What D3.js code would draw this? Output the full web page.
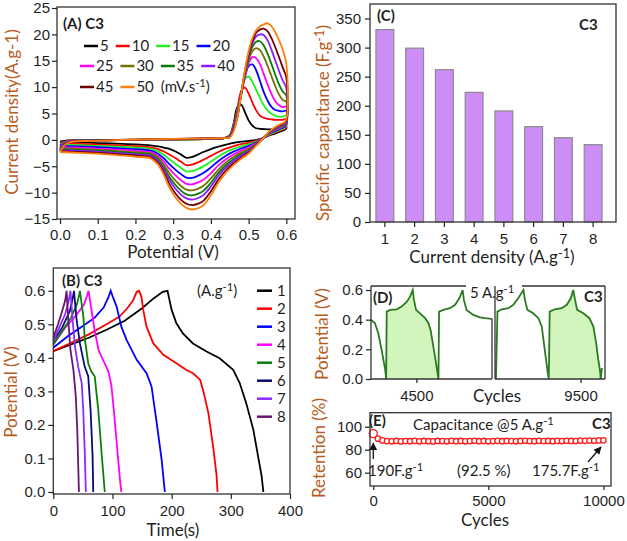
<!DOCTYPE html>
<html>
<head>
<meta charset="utf-8">
<script src="https://cdn.jsdelivr.net/npm/d3@7/dist/d3.min.js"></script>
<style>
  body { margin: 0; background: #fff; }
  svg { display: block; font-family: Lato, "Open Sans", sans-serif; }
</style>
</head>
<body>
<svg id="chart" width="627" height="541"></svg>
<script>
// ---------- (A) CV curves ----------
const cvRates = [5, 10, 15, 20, 25, 30, 35, 40, 45, 50];
const cvColors = ['#000000', '#ff0000', '#22ee22', '#0000ff', '#ff00ff', '#727200', '#0b7a0b', '#8a1cff', '#6e0000', '#ff7f0f'];
const cvUpV = [0, 0.02, 0.1, 0.2, 0.3, 0.4, 0.435, 0.45, 0.46, 0.47, 0.48, 0.49, 0.5, 0.51, 0.52, 0.53, 0.54, 0.55, 0.56, 0.57, 0.58, 0.59, 0.6];
const cvLowV = [0.598, 0.585, 0.57, 0.555, 0.54, 0.52, 0.5, 0.48, 0.46, 0.44, 0.42, 0.4, 0.38, 0.365, 0.35, 0.335, 0.32, 0.305, 0.29, 0.275, 0.26, 0.24, 0.2, 0.15, 0.1, 0.05, 0];
const cvUp = [
  [-0.35, -0.1, 0, 0, 0.05, 0.2, 0.35, 0.9, 3.0, 6.2, 6.7, 5.3, 3.7, 2.7, 2.2, 2.1, 2.05, 2.0, 2.0, 2.0, 2.1, 2.2, 2.4],
  [-0.63, -0.2, 0, 0, 0.05, 0.2, 0.35, 0.8, 2.8, 5.8, 9.2, 9.9, 8.8, 7.1, 5.6, 4.6, 4.2, 4.0, 3.9, 3.8, 3.8, 3.8, 3.9],
  [-0.88, -0.25, -0.05, 0, 0.05, 0.2, 0.35, 0.8, 2.6, 5.5, 8.8, 11.6, 12.0, 11.0, 9.5, 8.0, 6.6, 5.6, 5.0, 4.6, 4.4, 4.4, 4.6],
  [-1.12, -0.3, -0.05, 0, 0.1, 0.25, 0.35, 0.7, 2.4, 5.2, 8.6, 11.8, 14.0, 14.3, 13.2, 11.2, 9.1, 7.5, 6.3, 5.7, 5.5, 5.4, 5.5],
  [-1.36, -0.35, -0.1, 0, 0.1, 0.25, 0.35, 0.7, 2.3, 5.0, 8.5, 12.0, 14.5, 15.7, 15.5, 14.4, 12.5, 10.6, 8.8, 7.4, 6.6, 6.2, 6.3],
  [-1.59, -0.4, -0.1, 0, 0.1, 0.3, 0.35, 0.6, 2.2, 4.8, 8.5, 12.3, 15.0, 16.8, 17.4, 17.0, 15.8, 14.1, 12.2, 10.3, 8.7, 7.6, 7.2],
  [-1.77, -0.45, -0.1, 0.05, 0.15, 0.3, 0.35, 0.6, 2.1, 4.6, 8.5, 12.5, 15.5, 17.6, 18.6, 18.7, 17.9, 16.4, 14.5, 12.5, 10.6, 9.2, 8.4],
  [-1.93, -0.5, -0.15, 0.05, 0.15, 0.3, 0.35, 0.55, 2.0, 4.4, 8.5, 12.7, 16.0, 18.3, 19.6, 20.0, 19.9, 18.9, 17.2, 15.2, 13.2, 11.3, 9.8],
  [-2.14, -0.55, -0.15, 0.05, 0.2, 0.3, 0.35, 0.5, 1.9, 4.2, 8.5, 12.9, 16.4, 18.8, 20.3, 20.9, 21.1, 20.6, 19.4, 17.7, 15.8, 13.8, 11.8],
  [-2.3, -0.6, -0.2, 0.05, 0.2, 0.3, 0.35, 0.45, 1.6, 4.2, 8.5, 13.1, 16.8, 19.3, 20.8, 21.5, 21.9, 22.1, 21.6, 20.5, 19.0, 17.2, 14.4]
];
const cvLow = [
  [2.0, 1.6, 1.2, 0.85, 0.4, 0.0, -0.2, -0.35, -0.55, -0.9, -1.3, -1.75, -2.3, -2.8, -3.25, -3.4, -2.75, -2.15, -1.7, -1.45, -1.25, -1.05, -0.85, -0.7, -0.6, -0.45, -0.35],
  [2.2, 1.8, 1.4, 0.96, 0.4, -0.16, -0.55, -0.82, -1.17, -1.67, -2.29, -3.03, -3.77, -4.29, -4.7, -4.79, -4.12, -3.41, -2.77, -2.2, -1.75, -1.41, -1.19, -1.02, -0.89, -0.74, -0.63],
  [2.43, 1.98, 1.52, 1.05, 0.4, -0.3, -0.85, -1.23, -1.7, -2.33, -3.14, -4.11, -5.03, -5.55, -5.94, -5.97, -5.27, -4.49, -3.67, -2.84, -2.18, -1.71, -1.48, -1.29, -1.14, -0.99, -0.88],
  [2.63, 2.15, 1.68, 1.15, 0.4, -0.44, -1.15, -1.64, -2.23, -3.0, -3.99, -5.22, -6.3, -6.84, -7.19, -7.16, -6.45, -5.58, -4.59, -3.49, -2.62, -2.02, -1.78, -1.57, -1.39, -1.24, -1.12],
  [2.83, 2.33, 1.82, 1.24, 0.4, -0.57, -1.45, -2.04, -2.76, -3.66, -4.84, -6.3, -7.55, -8.1, -8.42, -8.34, -7.61, -6.65, -5.5, -4.13, -3.04, -2.32, -2.07, -1.84, -1.64, -1.49, -1.36],
  [3.02, 2.49, 1.96, 1.33, 0.4, -0.7, -1.72, -2.41, -3.25, -4.27, -5.62, -7.31, -8.71, -9.28, -9.57, -9.43, -8.69, -7.64, -6.34, -4.72, -3.44, -2.61, -2.34, -2.1, -1.87, -1.72, -1.59],
  [3.17, 2.62, 2.08, 1.4, 0.4, -0.8, -1.95, -2.72, -3.65, -4.77, -6.26, -8.14, -9.67, -10.25, -10.51, -10.34, -9.58, -8.46, -7.03, -5.21, -3.77, -2.84, -2.57, -2.31, -2.06, -1.91, -1.77],
  [3.3, 2.73, 2.17, 1.46, 0.4, -0.89, -2.14, -2.98, -3.99, -5.19, -6.81, -8.84, -10.48, -11.06, -11.31, -11.1, -10.32, -9.16, -7.61, -5.62, -4.04, -3.03, -2.75, -2.48, -2.22, -2.07, -1.93],
  [3.47, 2.88, 2.3, 1.54, 0.4, -1.01, -2.4, -3.33, -4.45, -5.76, -7.54, -9.77, -11.56, -12.15, -12.37, -12.11, -11.32, -10.08, -8.39, -6.17, -4.41, -3.3, -3.0, -2.72, -2.43, -2.28, -2.14],
  [3.6, 3.0, 2.4, 1.6, 0.4, -1.1, -2.6, -3.6, -4.8, -6.2, -8.1, -10.5, -12.4, -13.0, -13.2, -12.9, -12.1, -10.8, -9.0, -6.6, -4.7, -3.5, -3.2, -2.9, -2.6, -2.45, -2.3]
];
const cvXTicks = [0, 0.1, 0.2, 0.3, 0.4, 0.5, 0.6];
const cvYTicks = [-15, -10, -5, 0, 5, 10, 15, 20, 25];

// ---------- (B) GCD curves ----------
const gcdCurrents = [1, 2, 3, 4, 5, 6, 7, 8];
const gcdColors = ['#000000', '#ff0000', '#0000ff', '#ff00ff', '#0a800a', '#0c0c78', '#8a2cff', '#6a1670'];
const gcd1 = [[0,0.42],[30,0.44],[60,0.46],[90,0.484],[120,0.51],[150,0.548],[170,0.578],[185,0.597],[193,0.6],[196,0.575],[200,0.543],[208,0.503],[219,0.473],[236,0.443],[259,0.419],[281,0.399],[304,0.364],[315,0.325],[326,0.265],[338,0.186],[346,0.107],[352,0.048],[355,0]];
const gcd2 = [[0,0.42],[30,0.445],[60,0.47],[90,0.5],[112,0.523],[125,0.548],[135,0.572],[141,0.597],[145,0.6],[149,0.582],[152,0.543],[157.5,0.493],[169,0.443],[186,0.409],[208,0.384],[225,0.364],[236,0.354],[248,0.335],[253,0.305],[262,0.236],[270,0.137],[276,0.048],[277.5,0]];
const gcd3 = [[0,0.43],[25,0.465],[50,0.495],[70,0.52],[85,0.55],[93,0.58],[97,0.6],[100,0.585],[107,0.553],[115,0.493],[124,0.453],[141,0.394],[157.5,0.354],[166,0.315],[174,0.216],[183,0.097],[188.5,0]];
const gcd4 = [[0,0.44],[20,0.49],[40,0.53],[52,0.56],[57,0.585],[59.5,0.6],[64,0.55],[70,0.48],[77,0.42],[85,0.39],[93,0.36],[98,0.32],[102,0.25],[106,0.17],[110,0.09],[113,0.03],[115,0]];
const gcd5 = [[0,0.44],[15,0.48],[30,0.52],[40,0.56],[44,0.59],[45,0.6],[48,0.56],[51,0.52],[53,0.46],[59,0.384],[64,0.36],[70,0.345],[76,0.245],[82,0.107],[87,0]];
const gcd6 = [[0,0.45],[15,0.49],[28,0.54],[33,0.58],[35,0.6],[39.4,0.513],[45,0.443],[53,0.374],[59,0.345],[63,0.245],[66.4,0.107],[67.5,0]];
const gcd7 = [[0,0.45],[10,0.49],[20,0.53],[26,0.57],[29,0.6],[32.6,0.513],[36.6,0.434],[42,0.374],[48,0.325],[50.6,0.245],[53.4,0.107],[55,0]];
const gcd8 = [[0,0.46],[8,0.5],[15,0.54],[20,0.57],[22.5,0.6],[25.3,0.513],[29,0.424],[34,0.364],[38,0.285],[40.5,0.186],[42,0.087],[43.3,0]];
const gcdCurves = [gcd1, gcd2, gcd3, gcd4, gcd5, gcd6, gcd7, gcd8];

// ---------- (C) specific capacitance ----------
const capCurrents = ['1', '2', '3', '4', '5', '6', '7', '8'];
const capValues = [331, 299, 262, 223, 191, 164, 145, 133];

// ---------- (D) long cycling GCD, two windows ----------
const cycLeft = [[4485,0.40],[4486.3,0.376],[4487.4,0.309],[4488.5,0.197],[4489.3,0.107],[4489.7,0.063],[4490.0,0.0],[4490.2,0.454],[4491.3,0.466],[4493.5,0.47],[4495.1,0.488],[4496.8,0.52],[4497.9,0.555],[4498.8,0.6],[4499.2,0.533],[4499.9,0.466],[4501.2,0.443],[4502.9,0.41],[4504.0,0.376],[4504.7,0.33],[4505.6,0.22],[4506.5,0.107],[4507.0,0.04],[4507.3,0.0],[4507.5,0.454],[4508.9,0.466],[4511.1,0.477],[4512.8,0.5],[4514.2,0.544],[4515.3,0.6],[4515.7,0.533],[4516.6,0.466],[4518.8,0.432],[4521.0,0.415],[4522.7,0.41],[4524.9,0.405]];
const cycRight = [[9472.3,0.0],[9472.8,0.454],[9474.2,0.47],[9476.4,0.477],[9478.0,0.5],[9479.6,0.544],[9481.3,0.6],[9481.8,0.533],[9482.6,0.466],[9484.5,0.443],[9486.2,0.41],[9487.3,0.354],[9488.0,0.242],[9488.7,0.13],[9489.2,0.051],[9489.6,0.0],[9489.9,0.454],[9491.6,0.47],[9493.8,0.477],[9495.5,0.5],[9496.8,0.544],[9497.6,0.6],[9498.2,0.533],[9498.9,0.466],[9500.9,0.443],[9502.9,0.41],[9504.2,0.354],[9505.1,0.242],[9505.8,0.13],[9506.4,0.051],[9506.6,0.0],[9507.0,0.074]];
const cycFillLeft = [4490.2, 4507.3];
const cycFillRight = [9489.9, 9506.6];

// ---------- (E) retention ----------
const retCycles = [0,200,400,600,800,1000,1200,1400,1600,1800,2000,2200,2400,2600,2800,3000,3200,3400,3600,3800,4000,4200,4400,4600,4800,5000,5200,5400,5600,5800,6000,6200,6400,6600,6800,7000,7200,7400,7600,7800,8000,8200,8400,8600,8800,9000,9200,9400,9600,9800,10000];
const retValues = [94.0,89.6,88.1,87.5,87.3,87.6,87.2,87.5,87.4,87.7,87.3,87.6,87.4,87.2,87.6,87.5,87.3,87.7,87.4,87.6,87.3,87.5,87.8,87.4,87.6,87.3,87.5,87.7,87.4,87.6,87.5,87.3,87.6,87.8,87.5,87.4,87.7,87.5,87.6,87.4,87.7,87.5,87.8,87.6,87.5,87.9,87.7,88.0,87.8,88.1,88.2];

const INK = '#1f1f1f';
const TITLE = '#b85c1e';
const svg = d3.select('#chart');
svg.append('rect').attr('width', 627).attr('height', 541).attr('fill', '#fff');

function styleAxis(g) {
  g.select('.domain').remove();
  g.selectAll('line').attr('stroke', '#222').attr('stroke-width', 1.2);
  g.selectAll('text').attr('fill', INK).attr('font-size', 15);
}

function box(x0, y0, x1, y1) {
  svg.append('rect').attr('x', x0).attr('y', y0)
    .attr('width', x1 - x0).attr('height', y1 - y0)
    .attr('fill', 'none').attr('stroke', '#333').attr('stroke-width', 1.3);
}

// text with optional superscript pieces: parts = ['plain', {sup: '-1'}, ...]
function rich(x, y, parts, o = {}) {
  const size = o.size || 15;
  const t = svg.append('text').attr('x', x).attr('y', y)
    .attr('font-size', size).attr('fill', o.color || INK)
    .attr('font-weight', o.bold ? 'bold' : null)
    .attr('text-anchor', o.anchor || 'start');
  if (o.rotate) t.attr('transform', `rotate(-90,${x},${y})`);
  let up = false;
  parts.forEach(p => {
    const sup = typeof p !== 'string';
    const s = t.append('tspan').text(sup ? p.sup : p);
    if (sup) { s.attr('dy', -5).attr('font-size', size * 0.75); up = true; }
    else if (up) { s.attr('dy', 5); up = false; }
  });
  return t;
}

// ================= panel A =================
const xA = d3.scaleLinear().domain([-0.008, 0.623]).range([57, 295]);
const yA = d3.scaleLinear().domain([-15, 25]).range([219, 8]);

const cvLine = d3.line()
  .x(d => xA(d[0])).y(d => yA(d[1]))
  .curve(d3.curveCatmullRom.alpha(0.5));

cvRates.forEach((r, i) => {
  const pts = cvUpV.map((v, j) => [v, cvUp[i][j]])
    .concat(cvLowV.map((v, j) => [v, cvLow[i][j]]));
  svg.append('path').datum(pts)
    .attr('d', cvLine).attr('fill', 'none')
    .attr('stroke', cvColors[i]).attr('stroke-width', 1.8);
});

box(57, 7, 295, 219);
svg.append('g').attr('transform', 'translate(57,0)')
  .call(d3.axisLeft(yA).tickValues(cvYTicks).tickSize(5).tickPadding(2)).call(styleAxis);
svg.append('g').attr('transform', 'translate(0,219)')
  .call(d3.axisBottom(xA).tickValues(cvXTicks).tickFormat(d3.format('.1f')).tickSize(5).tickPadding(5)).call(styleAxis);

rich(63, 29, ['(A) C3'], {bold: true, size: 15});
rich(173, 258, ['Potential (V)'], {anchor: 'middle', size: 17});
rich(18, 112, ['Current density(A.g-1)'], {anchor: 'middle', size: 17, rotate: true, color: TITLE});

// legend, four per row
const legRowStart = [84, 80, 80];
const legRowY = [46, 66, 87];
let legX = 0;
cvRates.forEach((r, i) => {
  const row = Math.floor(i / 4);
  if (i % 4 === 0) legX = legRowStart[row];
  const y = legRowY[row];
  svg.append('line').attr('x1', legX).attr('x2', legX + 14).attr('y1', y).attr('y2', y)
    .attr('stroke', cvColors[i]).attr('stroke-width', 2.5);
  const t = rich(legX + 16, y + 5, [String(r)], {size: 15});
  legX += 16 + t.node().getComputedTextLength() + 7;
});
rich(legX, legRowY[2] + 5, ['(mV.s', {sup: '-1'}, ')'], {size: 15});

// ================= panel B =================
const xB = d3.scaleLinear().domain([0, 400]).range([53.3, 290]);
const yB = d3.scaleLinear().domain([-0.006, 0.668]).range([494, 268]);
const gcdLine = d3.line().x(d => xB(d[0])).y(d => yB(d[1]));

gcdCurves.forEach((c, i) => {
  svg.append('path').datum(c).attr('d', gcdLine).attr('fill', 'none')
    .attr('stroke', gcdColors[i]).attr('stroke-width', 1.8);
});

box(53.3, 268, 290, 494);
svg.append('g').attr('transform', 'translate(53.3,0)')
  .call(d3.axisLeft(yB).tickValues([0, 0.1, 0.2, 0.3, 0.4, 0.5, 0.6]).tickFormat(d3.format('.1f')).tickSize(5).tickPadding(3)).call(styleAxis);
svg.append('g').attr('transform', 'translate(0,494)')
  .call(d3.axisBottom(xB).tickValues([0, 100, 200, 300, 400]).tickSize(5).tickPadding(6)).call(styleAxis);

rich(62, 286, ['(B) C3'], {bold: true, size: 15});
rich(173, 536, ['Time(s)'], {anchor: 'middle', size: 17});
rich(17, 392, ['Potential (V)'], {anchor: 'middle', size: 17, rotate: true, color: TITLE});
rich(197, 296, ['(A.g', {sup: '-1'}, ')'], {size: 15});
gcdCurrents.forEach((c, i) => {
  const y = 290.7 + i * 18;
  svg.append('line').attr('x1', 257).attr('x2', 272).attr('y1', y).attr('y2', y)
    .attr('stroke', gcdColors[i]).attr('stroke-width', 2.5);
  rich(277, y + 5, [String(c)], {size: 15});
});

// ================= panel C =================
const xC = d3.scaleBand().domain(capCurrents).range([370, 608]).paddingInner(0.4).paddingOuter(0.2);
const yC = d3.scaleLinear().domain([0, 375]).range([222, 4]);

svg.append('g').selectAll('rect').data(capValues).join('rect')
  .attr('x', (d, i) => xC(capCurrents[i]))
  .attr('y', d => yC(d))
  .attr('width', xC.bandwidth())
  .attr('height', d => yC(0) - yC(d))
  .attr('fill', '#cc8ef6').attr('stroke', '#8a8a8a').attr('stroke-width', 1.2);

box(370, 4, 616, 222);
svg.append('g').attr('transform', 'translate(370,0)')
  .call(d3.axisLeft(yC).tickValues([0, 50, 100, 150, 200, 250, 300, 350]).tickSize(5).tickPadding(4)).call(styleAxis);
svg.append('g').attr('transform', 'translate(0,222)')
  .call(d3.axisBottom(xC).tickSize(5).tickPadding(6)).call(styleAxis);

rich(377, 21, ['(C)'], {bold: true, size: 15});
rich(579, 30, ['C3'], {bold: true, size: 15});
rich(492, 263, ['Current density (A.g', {sup: '-1'}, ')'], {anchor: 'middle', size: 17});
rich(329, 123, ['Specific capacitance (F.g', {sup: '-1'}, ')'], {anchor: 'middle', size: 17, rotate: true, color: TITLE});

// ================= panel D =================
const xDL = d3.scaleLinear().domain([4485, 4525]).range([371, 492]);
const xDR = d3.scaleLinear().domain([9472, 9508]).range([495, 605]);
const yD = d3.scaleLinear().domain([0, 0.627]).range([379, 286]);

function cycPanel(data, xs, fillRange) {
  const inFill = data.filter(d => d[0] >= fillRange[0] && d[0] <= fillRange[1]);
  svg.append('path').datum(inFill)
    .attr('d', d3.area().x(d => xs(d[0])).y0(yD(0)).y1(d => yD(d[1])))
    .attr('fill', '#d2f5bd');
  svg.append('path').datum(data)
    .attr('d', d3.line().x(d => xs(d[0])).y(d => yD(d[1])))
    .attr('fill', 'none').attr('stroke', '#2a7a1f').attr('stroke-width', 1.8);
}
cycPanel(cycLeft, xDL, cycFillLeft);
cycPanel(cycRight, xDR, cycFillRight);

const dStroke = l => l.attr('stroke', '#333').attr('stroke-width', 1.3);
dStroke(svg.append('line').attr('x1', 371).attr('x2', 466).attr('y1', 286).attr('y2', 286));
dStroke(svg.append('line').attr('x1', 522).attr('x2', 605).attr('y1', 286).attr('y2', 286));
dStroke(svg.append('line').attr('x1', 371).attr('x2', 492).attr('y1', 379).attr('y2', 379));
dStroke(svg.append('line').attr('x1', 495).attr('x2', 605).attr('y1', 379).attr('y2', 379));
dStroke(svg.append('line').attr('x1', 605).attr('x2', 605).attr('y1', 286).attr('y2', 379));
dStroke(svg.append('line').attr('x1', 492).attr('x2', 492).attr('y1', yD(0.41)).attr('y2', 379));
dStroke(svg.append('line').attr('x1', 495).attr('x2', 495).attr('y1', 286).attr('y2', 379));
dStroke(svg.append('line').attr('x1', 371).attr('x2', 371).attr('y1', 286).attr('y2', 379));

svg.append('g').attr('transform', 'translate(371,0)')
  .call(d3.axisLeft(yD).tickValues([0, 0.2, 0.4, 0.6]).tickFormat(d3.format('.1f')).tickSize(5).tickPadding(3)).call(styleAxis);
svg.append('g').attr('transform', 'translate(0,379)')
  .call(d3.axisBottom(xDL).tickValues([4500]).tickFormat(d3.format('d')).tickSize(4).tickPadding(7)).call(styleAxis);
svg.append('g').attr('transform', 'translate(0,379)')
  .call(d3.axisBottom(xDR).tickValues([9500]).tickFormat(d3.format('d')).tickSize(4).tickPadding(7)).call(styleAxis);

rich(373, 303, ['(D)'], {bold: true, size: 15});
rich(470, 298, ['5 A.g', {sup: '-1'}], {size: 15});
rich(584, 302, ['C3'], {bold: true, size: 15});
rich(497, 402, ['Cycles'], {anchor: 'middle', size: 17});
rich(328, 334, ['Potential (V)'], {anchor: 'middle', size: 17, rotate: true, color: TITLE});

// ================= panel E =================
const xE = d3.scaleLinear().domain([-143, 10330]).range([370, 611]);
const yE = d3.scaleLinear().domain([48.4, 112.2]).range([486, 412.7]);

svg.append('g').selectAll('circle').data(retValues).join('circle')
  .attr('cx', (d, i) => xE(retCycles[i]))
  .attr('cy', d => yE(d))
  .attr('r', (d, i) => i === 0 ? 4 : 2.7)
  .attr('fill', '#fff').attr('stroke', '#ff1a1a').attr('stroke-width', 1.3);

box(370, 412.7, 611, 486);
svg.append('g').attr('transform', 'translate(370,0)')
  .call(d3.axisLeft(yE).tickValues([60, 80, 100]).tickSize(5).tickPadding(3)).call(styleAxis);
svg.append('g').attr('transform', 'translate(0,486)')
  .call(d3.axisBottom(xE).tickValues([0, 5000, 10000]).tickFormat(d3.format('d')).tickSize(4).tickPadding(5)).call(styleAxis);

const defs = svg.append('defs');
defs.append('marker').attr('id', 'arrow').attr('viewBox', '0 0 10 10')
  .attr('refX', 9).attr('refY', 5).attr('markerWidth', 6).attr('markerHeight', 6)
  .attr('orient', 'auto-start-reverse')
  .append('path').attr('d', 'M0,0 L10,5 L0,10 z').attr('fill', '#111');

svg.append('line').attr('x1', xE(0)).attr('x2', xE(0)).attr('y1', 459).attr('y2', 443)
  .attr('stroke', '#111').attr('stroke-width', 1.3).attr('marker-end', 'url(#arrow)');
svg.append('line').attr('x1', 588).attr('x2', 601).attr('y1', 462).attr('y2', 447)
  .attr('stroke', '#111').attr('stroke-width', 1.3).attr('marker-end', 'url(#arrow)');

rich(369, 426, ['(E)'], {bold: true, size: 15});
rich(413, 430, ['Capacitance  @5 A.g', {sup: '-1'}], {size: 15});
rich(592, 429, ['C3'], {bold: true, size: 15});
rich(368, 476, ['190F.g', {sup: '-1'}], {size: 15});
rich(457, 476, ['(92.5 %)'], {size: 15});
rich(532, 476, ['175.7F.g', {sup: '-1'}], {size: 15});
rich(485, 526, ['Cycles'], {anchor: 'middle', size: 17});
rich(325, 448, ['Retention (%)'], {anchor: 'middle', size: 17, rotate: true, color: TITLE});
</script>
</body>
</html>
